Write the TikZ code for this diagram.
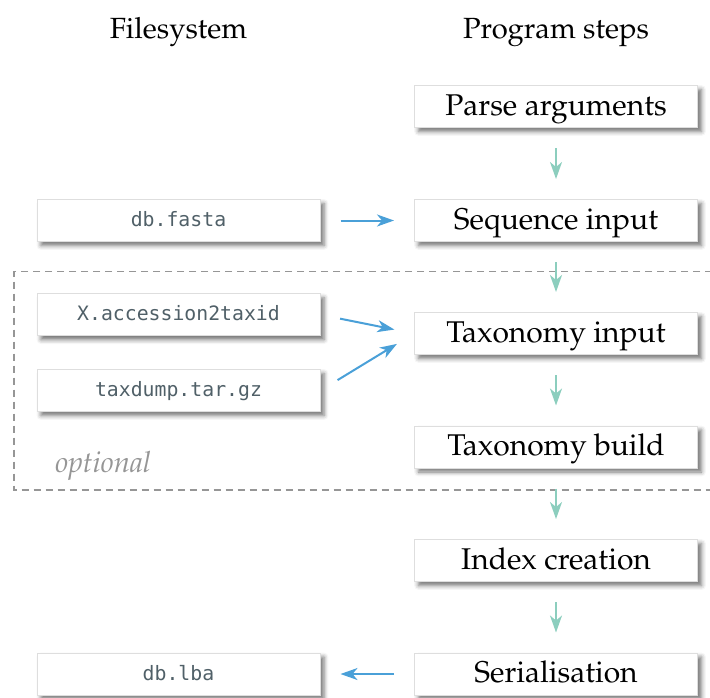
\documentclass[tikz,border=0pt]{standalone}
\usepackage{fontspec}
\usepackage[T1]{fontenc}
\usepackage{mathpazo}
\newfontfamily\codefont{DejaVu Sans Mono}
\usetikzlibrary{arrows.meta,shadows.blur}

\definecolor{codegray}{RGB}{80,96,104}
\definecolor{flowgreen}{RGB}{140,206,190}
\definecolor{ioblue}{RGB}{74,160,216}
\definecolor{boxline}{RGB}{222,222,222}
\definecolor{optgray}{RGB}{150,150,150}

\tikzset{
  card/.style={draw=boxline, line width=0.5pt, fill=white,
    minimum width=141.5pt, minimum height=21pt, inner sep=0pt,
    blur shadow={shadow xshift=2pt, shadow yshift=-2pt,
      shadow blur radius=2.2pt, shadow opacity=55}},
  stepbox/.style={card, font=\fontsize{15}{18}\selectfont,
    text height=11pt, text depth=2.5pt},
  filebox/.style={card, font=\codefont\fontsize{9.9}{12}\selectfont\color{codegray},
    text height=8.2pt, text depth=2pt},
  header/.style={anchor=base, inner sep=0pt, font=\fontsize{14.6}{18}\selectfont},
  tipstyle/.style={-{Stealth[length=8.5pt, width=6pt, inset=2.5pt]}},
  flow/.style={draw=flowgreen, line width=1pt, tipstyle,
    shorten >=10pt, shorten <=10pt},
  io/.style={draw=ioblue, line width=1pt, tipstyle,
    shorten >=10pt, shorten <=10pt},
  optframe/.style={draw=optgray, line width=0.75pt, dash pattern=on 3.5pt off 2.5pt}
}

\begin{document}
\begin{tikzpicture}[x=0.5pt, y=-0.5pt]
  \useasboundingbox (0,0) rectangle (710,697);

  % column headings
  \node[header] (hfs)   at (178.5,38) {Filesystem};
  \node[header] (hprog) at (556,38)   {Program steps};

  % optional part of the pipeline
  \draw[optframe] (712,271.5) -- (14,271.5) -- (14,490) -- (712,490);
  \node[anchor=base west, inner sep=0pt, text=optgray,
        font=\fontsize{14.6}{18}\selectfont\itshape] (opt) at (55,472) {optional};

  % program steps
  \node[stepbox] (parse) at (556,106.5) {Parse arguments};
  \node[stepbox] (seq)   at (556,220.5) {Sequence input};
  \node[stepbox] (taxin) at (556,333.5) {Taxonomy input};
  \node[stepbox] (taxbd) at (556,447)   {Taxonomy build};
  \node[stepbox] (index) at (556,560.5) {Index creation};
  \node[stepbox] (ser)   at (556,674)   {Serialisation};

  % files
  \node[filebox] (fasta) at (178.5,220.5) {db.fasta};
  \node[filebox] (acc)   at (178.5,314.7) {X.accession2taxid};
  \node[filebox] (dump)  at (178.5,390.5) {taxdump.tar.gz};
  \node[filebox] (lba)   at (178.5,674)   {db.lba};

  % control flow
  \draw[flow] (parse) -- (seq);
  \draw[flow] (seq)   -- (taxin);
  \draw[flow] (taxin) -- (taxbd);
  \draw[flow] (taxbd) -- (index);
  \draw[flow] (index) -- (ser);

  % file input and output
  \draw[io] (fasta.east) -- (seq.west);
  \draw[io] (acc.east)   -- (taxin.west);
  \draw[io] (dump.east)  -- (taxin.west);
  \draw[io] (ser.west)   -- (lba.east);
\end{tikzpicture}
\end{document}
